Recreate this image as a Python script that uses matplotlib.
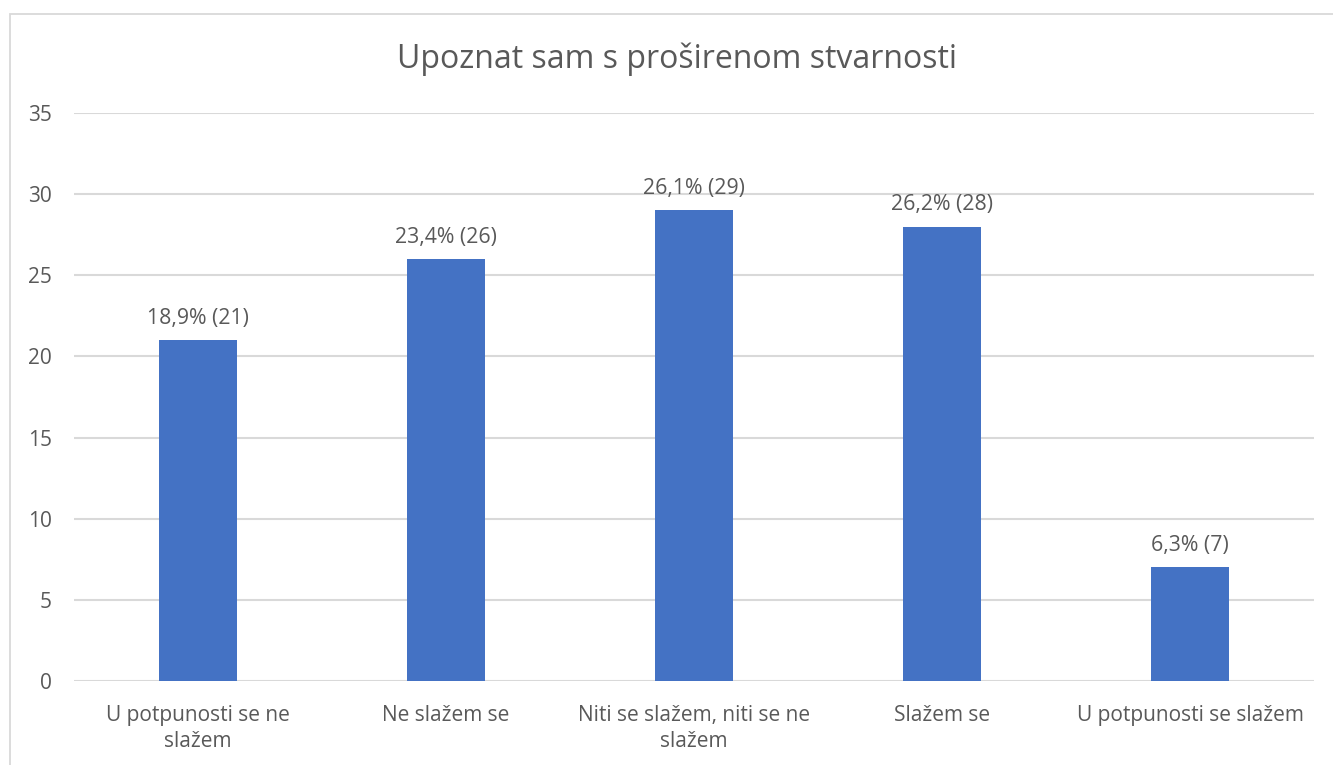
import matplotlib
matplotlib.use("Agg")
import matplotlib.pyplot as plt
from matplotlib.patches import Rectangle

categories = ["U potpunosti se ne\nslažem", "Ne slažem se", "Niti se slažem, niti se ne\nslažem",
              "Slažem se", "U potpunosti se slažem"]
values = [21, 26, 29, 28, 7]
labels = ["18,9% (21)", "23,4% (26)", "26,1% (29)", "26,2% (28)", "6,3% (7)"]
title = "Upoznat sam s proširenom stvarnosti"

plt.rcParams['font.family'] = ['Open Sans', 'DejaVu Sans']
txt = '#595959'
W, H = 1333, 765
fig = plt.figure(figsize=(W/100, H/100), dpi=100)

# outer chart border
fig.patches.append(Rectangle((9.5/W, -0.1), 1.2, (765-13.5)/H + 0.1, transform=fig.transFigure,
                             fill=False, edgecolor='#d9d9d9', linewidth=1.3))

ax = fig.add_axes([74/W, 1-681/H, (1314-74)/W, (681-113)/H])
x = range(len(values))
ax.bar(x, values, width=0.315, color='#4472C4', zorder=3)
ax.set_xlim(-0.5, 4.5)
ax.set_ylim(0, 35)
ax.set_yticks(range(0, 36, 5))
ax.grid(axis='y', color='#d9d9d9', linewidth=1.5, zorder=0)
for s in ax.spines.values():
    s.set_visible(False)
ax.tick_params(axis='y', length=0, pad=16, labelsize=15, labelcolor=txt)
ax.tick_params(axis='x', length=0, pad=17, labelsize=15, labelcolor=txt)
ax.set_xticks(list(x))
ax.set_xticklabels(categories, linespacing=1.33)

for xi, v, l in zip(x, values, labels):
    ax.annotate(l, (xi, v), xytext=(0, 8), textcoords='offset points',
                ha='center', va='bottom', fontsize=15.3, color=txt)

fig.text(677/W, 1-59/H, title, ha='center', va='center', fontsize=23, color=txt)

fig.savefig("out.png", dpi=100)
